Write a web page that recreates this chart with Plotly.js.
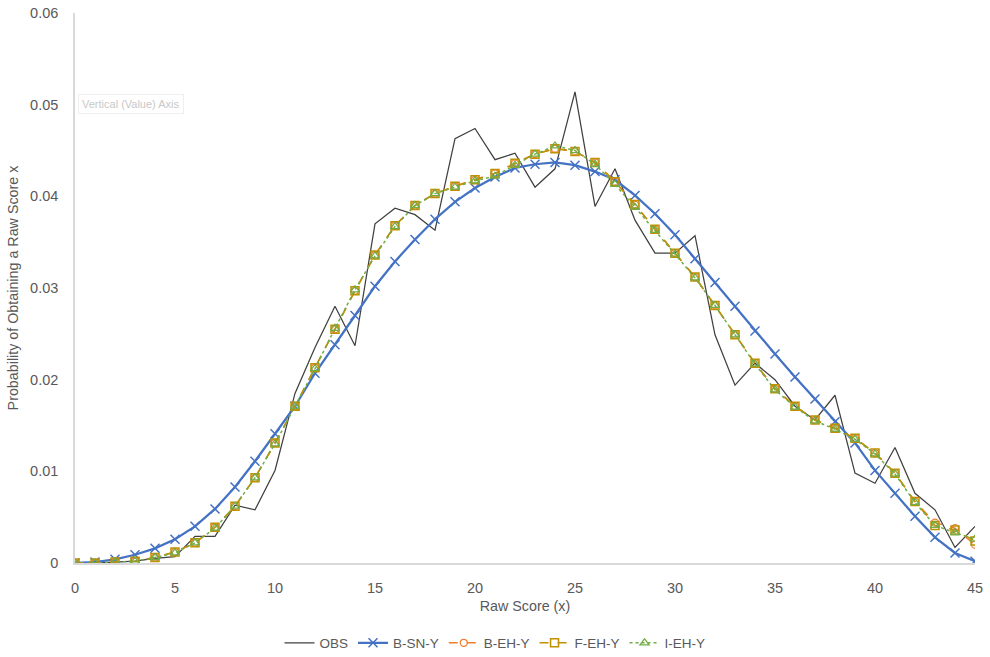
<!DOCTYPE html>
<html>
<head>
<meta charset="utf-8">
<script src="https://cdn.plot.ly/plotly-3.0.1.min.js"></script>
<style>html,body{margin:0;padding:0;background:#fff;}#chart{width:990px;height:657px;}</style>
</head>
<body>
<div id="chart"></div>
<script>
const rawScores = [0,1,2,3,4,5,6,7,8,9,10,11,12,13,14,15,16,17,18,19,20,21,22,23,24,25,26,27,28,29,30,31,32,33,34,35,36,37,38,39,40,41,42,43,44,45];

const obs = [0,0,0.0001,0.0002,0.0005,0.0007,0.0029,0.0029,0.0063,0.0058,0.0101,0.0185,0.0235,0.0280,0.0237,0.0370,0.0387,0.0380,0.0363,0.0463,0.0474,0.0440,0.0447,0.0410,0.0430,0.0514,0.0389,0.0430,0.0374,0.0338,0.0338,0.0357,0.0249,0.0194,0.0218,0.0200,0.0171,0.0156,0.0183,0.0098,0.0087,0.0126,0.0076,0.0058,0.0017,0.0040];

const bsny = [0,0.0001,0.0004,0.0009,0.0016,0.0026,0.0040,0.0059,0.0083,0.0111,0.0141,0.0171,0.0207,0.0238,0.0270,0.0302,0.0329,0.0353,0.0375,0.0394,0.0409,0.0421,0.0431,0.0435,0.0437,0.0434,0.0427,0.0418,0.0401,0.0381,0.0358,0.0332,0.0306,0.0280,0.0253,0.0228,0.0203,0.0179,0.0154,0.0131,0.0101,0.0076,0.0051,0.0028,0.0011,0.0002];

const behy = [0,0,0.0001,0.0002,0.0006,0.0012,0.0022,0.0039,0.0062,0.0093,0.0131,0.0171,0.0213,0.0255,0.0297,0.0336,0.0368,0.0390,0.0403,0.0411,0.0418,0.0425,0.0436,0.0446,0.0452,0.0449,0.0437,0.0416,0.0391,0.0364,0.0338,0.0312,0.0281,0.0249,0.0218,0.0190,0.0171,0.0156,0.0147,0.0136,0.0120,0.0098,0.0067,0.0044,0.0038,0.0020];

const fehy = [0,0,0.0001,0.0002,0.0006,0.0012,0.0022,0.0039,0.0062,0.0093,0.0131,0.0171,0.0213,0.0255,0.0297,0.0336,0.0368,0.0390,0.0403,0.0411,0.0418,0.0425,0.0436,0.0446,0.0452,0.0449,0.0437,0.0416,0.0391,0.0364,0.0338,0.0312,0.0281,0.0249,0.0218,0.0190,0.0171,0.0156,0.0147,0.0136,0.0120,0.0098,0.0067,0.0041,0.0036,0.0024];

const iehy = [0,0,0.0001,0.0002,0.0006,0.0011,0.0022,0.0038,0.0062,0.0093,0.0130,0.0171,0.0212,0.0256,0.0298,0.0335,0.0367,0.0390,0.0403,0.0410,0.0417,0.0422,0.0434,0.0446,0.0455,0.0450,0.0435,0.0413,0.0388,0.0363,0.0337,0.0311,0.0281,0.0249,0.0217,0.0189,0.0170,0.0155,0.0146,0.0135,0.0119,0.0097,0.0066,0.0041,0.0033,0.0026];

const xTicks = [0,5,10,15,20,25,30,35,40,45];
const yTicks = [0,0.01,0.02,0.03,0.04,0.05,0.06];
const yTickText = ['0','0.01','0.02','0.03','0.04','0.05','0.06'];

const FONT = 'Liberation Sans, Arial, sans-serif';
const GRAY = '#595959';

const traces = [
  {name:'OBS', x:rawScores, y:obs, mode:'lines', line:{color:'#404040', width:1.25}},
  {name:'B-SN-Y', x:rawScores, y:bsny, mode:'lines+markers', line:{color:'#4472C4', width:2.25},
   marker:{symbol:'x-thin-open', size:9, line:{color:'#4472C4', width:1.5}}},
  {name:'B-EH-Y', x:rawScores, y:behy, mode:'lines+markers', line:{color:'#ED7D31', width:1.5, dash:'dash'},
   marker:{symbol:'circle-open', size:7, color:'#ED7D31', line:{color:'#ED7D31', width:1.25}}},
  {name:'F-EH-Y', x:rawScores, y:fehy, mode:'lines+markers', line:{color:'#BF9000', width:1.5, dash:'dash'},
   marker:{symbol:'square-open', size:8, color:'#BF9000', line:{color:'#BF9000', width:1.5}}},
  {name:'I-EH-Y', x:rawScores, y:iehy, mode:'lines+markers', line:{color:'#70AD47', width:1.5, dash:'dot'},
   marker:{symbol:'triangle-up-open', size:8, color:'#70AD47', line:{color:'#70AD47', width:1.25}}}
];

const layout = {
  width:990, height:657,
  margin:{l:75, r:15, t:13, b:94},
  paper_bgcolor:'#fff', plot_bgcolor:'#fff',
  font:{family:FONT, size:13, color:GRAY},
  showlegend:true,
  legend:{orientation:'h', xref:'container', yref:'container', x:0.5, xanchor:'center', y:(657-643)/657, yanchor:'middle',
    font:{family:FONT, size:13.5, color:GRAY}, itemwidth:30, tracegroupgap:0},
  xaxis:{range:[0,45], tickvals:xTicks, ticktext:xTicks.map(String), showgrid:false, zeroline:false, automargin:false,
    showline:true, linecolor:'#d9d9d9', linewidth:1.5, ticks:'outside', ticklen:11, tickcolor:'rgba(0,0,0,0)',
    tickfont:{family:FONT, size:14.5, color:GRAY},
    title:{text:'Raw Score (x)', font:{family:FONT, size:14.3, color:GRAY}, standoff:6}},
  yaxis:{range:[0,0.06], tickvals:yTicks, ticktext:yTickText, showgrid:false, zeroline:false, automargin:false,
    showline:true, linecolor:'#d9d9d9', linewidth:1.5, ticks:'outside', ticklen:12, tickcolor:'rgba(0,0,0,0)',
    tickfont:{family:FONT, size:14.5, color:GRAY},
    title:{text:'Probability of Obtaining a Raw Score x', font:{family:FONT, size:14.3, color:GRAY}, standoff:8}},
  annotations:[
    {text:'Vertical (Value) Axis', xref:'paper', yref:'paper', x:(78-75)/900, y:(563-104)/550, xanchor:'left', yanchor:'middle',
     showarrow:false, font:{family:FONT, size:11, color:'#c8c8c8'}, bgcolor:'#ffffff', bordercolor:'#eeeeee', borderwidth:1, borderpad:3}
  ]
};

Plotly.newPlot('chart', traces, layout, {displayModeBar:false});
</script>
</body>
</html>
